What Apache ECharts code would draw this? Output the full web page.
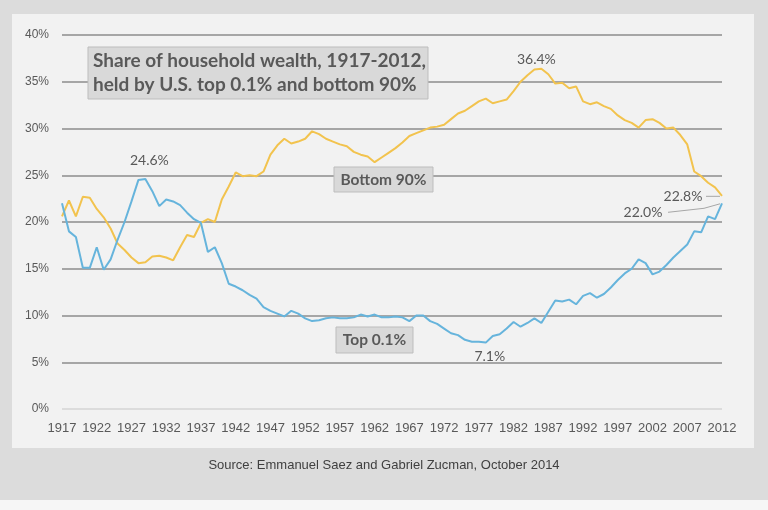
<!DOCTYPE html>
<html>
<head>
<meta charset="utf-8">
<script src="https://cdn.jsdelivr.net/npm/echarts@6/dist/echarts.min.js"></script>
<style>
  html, body { margin: 0; padding: 0; }
  body { width: 768px; height: 510px; background: #dcdcdc; position: relative; overflow: hidden; }
  #panel { position: absolute; left: 12px; top: 14px; width: 742px; height: 434px; background: #f2f2f2; }
  #strip { position: absolute; left: 0; top: 500px; width: 768px; height: 10px; background: #f6f6f6; }
  #chart { position: absolute; left: 0; top: 0; width: 768px; height: 510px; }
</style>
</head>
<body>
<div id="panel"></div>
<div id="strip"></div>
<div id="chart"></div>
<script>
const years = ['1917','1918','1919','1920','1921','1922','1923','1924','1925','1926',
  '1927','1928','1929','1930','1931','1932','1933','1934','1935','1936',
  '1937','1938','1939','1940','1941','1942','1943','1944','1945','1946',
  '1947','1948','1949','1950','1951','1952','1953','1954','1955','1956',
  '1957','1958','1959','1960','1961','1962','1963','1964','1965','1966',
  '1967','1968','1969','1970','1971','1972','1973','1974','1975','1976',
  '1977','1978','1979','1980','1981','1982','1983','1984','1985','1986',
  '1987','1988','1989','1990','1991','1992','1993','1994','1995','1996',
  '1997','1998','1999','2000','2001','2002','2003','2004','2005','2006',
  '2007','2008','2009','2010','2011','2012'];

const top01 = [22.0,19.0,18.4,15.1,15.1,17.3,14.9,16.0,18.1,20.0,
  22.2,24.5,24.6,23.3,21.7,22.4,22.2,21.8,21.0,20.3,
  19.9,16.8,17.3,15.6,13.4,13.1,12.7,12.2,11.8,10.9,
  10.5,10.2,9.9,10.5,10.2,9.7,9.4,9.5,9.7,9.8,
  9.7,9.7,9.8,10.1,9.9,10.1,9.8,9.8,9.9,9.8,
  9.4,10.0,10.0,9.4,9.1,8.6,8.1,7.9,7.4,7.2,
  7.2,7.1,7.8,8.0,8.6,9.3,8.8,9.2,9.7,9.2,
  10.4,11.6,11.5,11.7,11.2,12.1,12.4,11.9,12.3,13.0,
  13.8,14.5,15.0,16.0,15.6,14.4,14.7,15.4,16.2,16.9,
  17.6,19.0,18.9,20.6,20.3,22.0];

const bottom90 = [20.6,22.3,20.6,22.7,22.6,21.4,20.5,19.3,17.7,17.0,
  16.2,15.6,15.7,16.3,16.4,16.2,15.9,17.3,18.6,18.4,
  19.9,20.3,20.0,22.4,23.8,25.3,24.9,25.0,24.9,25.4,
  27.2,28.2,28.9,28.4,28.6,28.9,29.7,29.4,28.9,28.6,
  28.3,28.1,27.5,27.2,27.0,26.4,26.9,27.4,27.9,28.5,
  29.2,29.5,29.8,30.1,30.2,30.4,31.0,31.6,31.9,32.4,
  32.9,33.2,32.7,32.9,33.1,34.0,35.0,35.7,36.3,36.4,
  35.8,34.8,34.9,34.3,34.5,32.9,32.6,32.8,32.4,32.1,
  31.4,30.9,30.6,30.1,30.9,31.0,30.6,30.0,30.1,29.3,
  28.3,25.4,24.9,24.2,23.7,22.8];

const yMin = 0, yMax = 40, yStep = 5;
const titleLines = ['Share of household wealth, 1917-2012,', 'held by U.S. top 0.1% and bottom 90%'];
const sourceText = 'Source: Emmanuel Saez and Gabriel Zucman, October 2014';

const TXT = '#595959';
const ARIAL = "'Liberation Sans', Arial, sans-serif";
const CAL = "Lato, 'Open Sans', sans-serif";

const chart = echarts.init(document.getElementById('chart'), null, { renderer: 'canvas' });

const gridColors = ['#d4d4d4', '#8c8c8c', '#8c8c8c', '#8c8c8c', '#8c8c8c', '#8c8c8c', '#8c8c8c', '#8c8c8c', '#8c8c8c'];

const mpLabel = (off) => ({ show: true, position: 'inside', offset: off, color: TXT, fontFamily: CAL, fontSize: 14, formatter: '{b}' });

const option = {
  backgroundColor: 'transparent',
  animation: false,
  grid: { left: 62, right: 46, top: 35, bottom: 101, containLabel: false },
  xAxis: {
    type: 'category', data: years, boundaryGap: false,
    axisLine: { show: false }, axisTick: { show: false }, splitLine: { show: false },
    axisLabel: { interval: 4, color: TXT, fontFamily: ARIAL, fontSize: 13, margin: 13 }
  },
  yAxis: {
    type: 'value', min: yMin, max: yMax, interval: yStep,
    axisLine: { show: false }, axisTick: { show: false },
    axisLabel: { formatter: '{value}%', color: TXT, fontFamily: ARIAL, fontSize: 12, margin: 13 },
    splitLine: { show: true, lineStyle: { color: gridColors, width: 1.6 } }
  },
  series: [
    {
      name: 'Bottom 90%', type: 'line', data: bottom90, symbol: 'none', z: 3,
      lineStyle: { color: '#f2c34e', width: 2 },
      markPoint: {
        symbol: 'circle', symbolSize: 0,
        data: [
          { name: '36.4%', coord: ['1986', 36.4], label: mpLabel([-5, -9]) },
          { name: '22.8%', coord: ['2012', 22.8], label: mpLabel([-39, 1]) }
        ]
      }
    },
    {
      name: 'Top 0.1%', type: 'line', data: top01, symbol: 'none', z: 4,
      lineStyle: { color: '#66b4dc', width: 2 },
      markPoint: {
        symbol: 'circle', symbolSize: 0,
        data: [
          { name: '24.6%', coord: ['1929', 24.6], label: mpLabel([4, -19]) },
          { name: '7.1%', coord: ['1978', 7.1], label: mpLabel([4, 14]) },
          { name: '22.0%', coord: ['2012', 22.0], label: mpLabel([-79, 9]) }
        ]
      }
    }
  ]
};
chart.setOption(option);

const pB = chart.convertToPixel({ seriesIndex: 0 }, ['2012', 22.8]);
const pT = chart.convertToPixel({ seriesIndex: 1 }, ['2012', 22.0]);

chart.setOption({
  graphic: [
    { type: 'rect', z: 100, shape: { x: 88, y: 47, width: 340, height: 52 },
      style: { fill: '#d9d9d9', stroke: '#bdbdbd', lineWidth: 1 } },
    { type: 'text', z: 101, left: 93, top: 49,
      style: { text: titleLines.join('\n'), fill: TXT, font: "bold 19px " + CAL, lineHeight: 24 } },
    { type: 'rect', z: 100, shape: { x: 334, y: 167, width: 99, height: 25 },
      style: { fill: '#d9d9d9', stroke: '#bdbdbd', lineWidth: 1 } },
    { type: 'text', z: 101, x: 383.5, y: 179.5,
      style: { text: 'Bottom 90%', fill: TXT, font: "bold 15.5px " + CAL, align: 'center', verticalAlign: 'middle' } },
    { type: 'rect', z: 100, shape: { x: 336, y: 327, width: 77, height: 26 },
      style: { fill: '#d9d9d9', stroke: '#bdbdbd', lineWidth: 1 } },
    { type: 'text', z: 101, x: 374.5, y: 340,
      style: { text: 'Top 0.1%', fill: TXT, font: "bold 15.5px " + CAL, align: 'center', verticalAlign: 'middle' } },
    { type: 'polyline', z: 50, shape: { points: [[pB[0] - 16, pB[1] + 0.5], [pB[0] - 2, pB[1] + 0.5]] },
      style: { stroke: '#a6a6a6', lineWidth: 1, fill: null } },
    { type: 'polyline', z: 50, shape: { points: [[pT[0] - 54, pT[1] + 9], [pT[0] - 18, pT[1] + 5], [pT[0] - 2, pT[1] + 0.5]] },
      style: { stroke: '#a6a6a6', lineWidth: 1, fill: null } },
    { type: 'text', z: 101, x: 384, y: 465,
      style: { text: sourceText, fill: '#404040', font: "13px " + ARIAL, align: 'center', verticalAlign: 'middle' } }
  ]
});
</script>
</body>
</html>
